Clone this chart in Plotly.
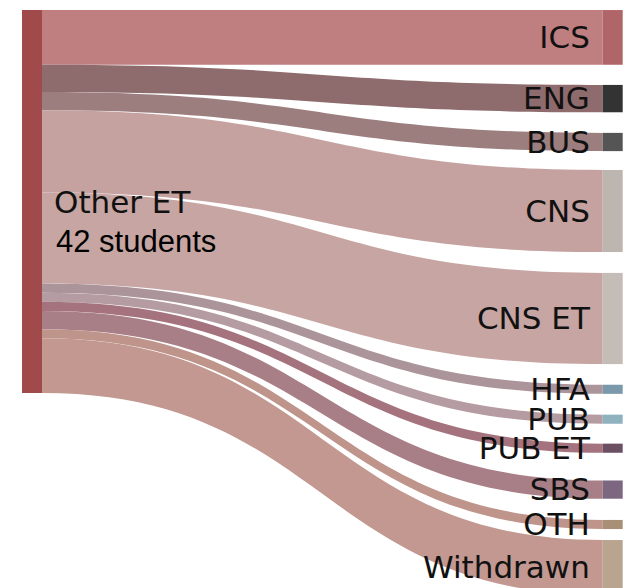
import plotly.graph_objects as go

# ---------------- data ----------------
source_label = "Other ET"
source_caption = "42 students"
targets = ["ICS", "ENG", "BUS", "CNS", "CNS ET", "HFA", "PUB", "PUB ET", "SBS", "OTH", "Withdrawn"]
students = [6, 3, 2, 9, 10, 1, 1, 1, 2, 1, 6]

# ---------------- styles ----------------
W, H = 629, 588
source_color = "#a04a4b"
target_colors = ["#b06668", "#333333", "#555555", "#bdb5b0", "#c3bcb7", "#7a9aab",
                 "#8fb2bf", "#6b4f63", "#7d6680", "#a89077", "#b8a48f"]
link_colors = ["#bf7f80", "#8e6c6d", "#9c7e7f", "#c5a29f", "#c6a5a2", "#ab949a",
               "#b59ca2", "#a5737d", "#a87f87", "#be948b", "#c29891"]

# node layout (pixel centres, converted to the sankey's normalised positions)
src_x_px, tgt_x_px = 32, 612.7
src_y_px = 201.5
tgt_y_px = [37.4, 98.6, 142.0, 211.0, 318.5, 389.3, 419.2, 448.2, 489.6, 524.5, 567.4]

labels = [""] + [t + "\u00a0" for t in targets]
node_x = [src_x_px / W] + [tgt_x_px / W] * len(targets)
node_y = [src_y_px / H] + [y / H for y in tgt_y_px]

fig = go.Figure(go.Sankey(
    arrangement="fixed",
    domain=dict(x=[0, 1], y=[0, 1]),
    node=dict(
        label=labels,
        x=node_x,
        y=node_y,
        pad=20.5,
        thickness=20,
        color=[source_color] + target_colors,
        line=dict(width=0),
    ),
    link=dict(
        source=[0] * len(targets),
        target=list(range(1, len(targets) + 1)),
        value=students,
        color=link_colors,
    ),
    textfont=dict(family="DejaVu Sans", size=31, color="#111111", shadow="none"),
    hoverinfo="skip",
))

fig.add_annotation(text=source_label, x=52 / W, y=1 - 201.5 / H, xref="paper", yref="paper",
                   xanchor="left", yanchor="middle", showarrow=False,
                   font=dict(family="DejaVu Sans", size=31, color="#111111"))
fig.add_annotation(text=source_caption, x=54 / W, y=1 - 241 / H, xref="paper", yref="paper",
                   xanchor="left", yanchor="middle", showarrow=False,
                   font=dict(family="Liberation Sans", size=31, color="#000000"))

fig.update_layout(width=W, height=H, margin=dict(l=0, r=0, t=0, b=0),
                  paper_bgcolor="white", plot_bgcolor="white")
fig.write_html("out.html", config={"displayModeBar": False},
               post_script="document.body.style.margin='0';document.body.style.overflow='hidden';")
